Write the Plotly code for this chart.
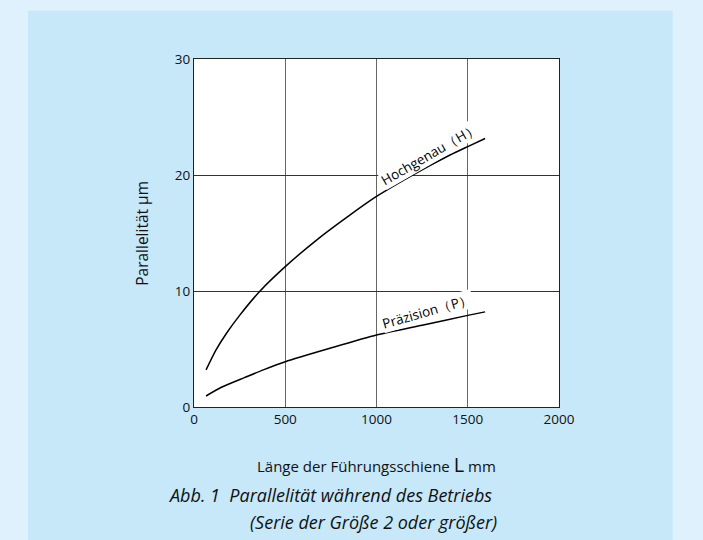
import plotly.graph_objects as go

# Rail length L (mm) and parallelism (µm) for the two accuracy grades
length_h = [66, 120, 180, 250, 362, 500, 680, 850, 1000, 1210, 1400, 1500, 1595]
parallel_h = [3.2, 4.9, 6.4, 7.9, 10.0, 12.1, 14.5, 16.5, 18.15, 20.1, 21.7, 22.45, 23.15]

length_p = [66, 150, 279, 380, 500, 754, 1000, 1250, 1500, 1595]
parallel_p = [0.95, 1.7, 2.55, 3.2, 3.9, 5.1, 6.2, 7.05, 7.9, 8.2]

x_ticks = [0, 500, 1000, 1500, 2000]
y_ticks = [0, 10, 20, 30]

FONT = "Open Sans"
OUTER_BG = "#dff1fc"
PANEL_BG = "#c6e8f8"

fig = go.Figure()
fig.add_trace(go.Scatter(x=length_h, y=parallel_h, mode="lines",
                         line=dict(color="black", width=1.5, shape="spline", smoothing=0.6),
                         hoverinfo="skip", showlegend=False))
fig.add_trace(go.Scatter(x=length_p, y=parallel_p, mode="lines",
                         line=dict(color="black", width=1.5, shape="spline", smoothing=0.6),
                         hoverinfo="skip", showlegend=False))

# Curve labels sitting on a white box above the grid
fig.add_annotation(x=1293, y=21.8, text="Hochgenau（H）", textangle=-30,
                   showarrow=False, bgcolor="white", borderpad=0,
                   font=dict(family=FONT, size=13.5, color="black"))
fig.add_annotation(x=1282, y=8.25, text="Präzision（P）", textangle=-16,
                   showarrow=False, bgcolor="white", borderpad=0,
                   font=dict(family=FONT, size=13.5, color="black"))

# Axis titles and caption
fig.add_annotation(xref="paper", yref="paper", x=0.499, y=-0.165,
                   text='Länge der Führungsschiene <span style="font-size:20px">L</span> mm',
                   showarrow=False, xanchor="center", yanchor="middle",
                   font=dict(family=FONT, size=15, color="#111"))
fig.add_annotation(xref="paper", yref="paper", x=-0.143, y=0.5,
                   text="Parallelität µm", textangle=-90,
                   showarrow=False, xanchor="center", yanchor="middle",
                   font=dict(family=FONT, size=15.5, color="#111"))
fig.add_annotation(xref="paper", yref="paper", x=-0.077, y=-0.253,
                   text="<i>Abb. 1  Parallelität während des Betriebs</i>",
                   showarrow=False, xanchor="left", yanchor="middle",
                   font=dict(family=FONT, size=18, color="#111"))
fig.add_annotation(xref="paper", yref="paper", x=0.148, y=-0.33,
                   text="<i>(Serie der Größe 2 oder größer)</i>",
                   showarrow=False, xanchor="left", yanchor="middle",
                   font=dict(family=FONT, size=18, color="#111"))

# Light panel behind the chart, then the white plot area on top of it
fig.add_shape(type="rect", xref="paper", yref="paper",
              x0=-0.4548, x1=1.3115, y0=-0.40, y1=1.139,
              fillcolor=PANEL_BG, line=dict(width=0), layer="below")
fig.add_shape(type="rect", xref="paper", yref="paper",
              x0=0, x1=1, y0=0, y1=1,
              fillcolor="white", line=dict(width=0), layer="below")

fig.update_xaxes(range=[0, 2000], tickvals=x_ticks, ticks="",
                 showgrid=True, gridcolor="#666", gridwidth=1,
                 showline=True, linecolor="#222", linewidth=1, mirror=True,
                 zeroline=False,
                 tickfont=dict(family=FONT, size=13.5, color="#111"))
fig.update_yaxes(range=[0, 30], tickvals=y_ticks, ticks="",
                 showgrid=True, gridcolor="#333", gridwidth=1,
                 showline=True, linecolor="#222", linewidth=1, mirror=True,
                 zeroline=False,
                 tickfont=dict(family=FONT, size=13.5, color="#111"))

fig.update_layout(
    width=703, height=540,
    margin=dict(l=194, r=144, t=59, b=133),
    paper_bgcolor=OUTER_BG,
    plot_bgcolor="white",
    showlegend=False,
)

fig.write_html("out.html")
